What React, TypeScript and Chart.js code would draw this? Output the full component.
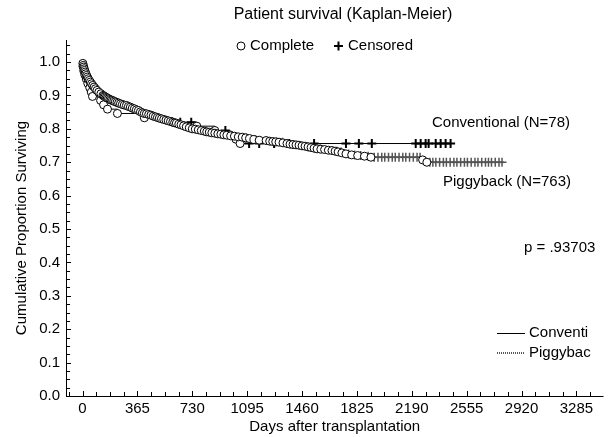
import React, { useEffect, useRef } from 'react';
import { Chart, registerables } from 'chart.js';

Chart.register(...registerables);

const FONT = '"Liberation Sans", Arial, Helvetica, sans-serif';

const TITLE = 'Patient survival (Kaplan-Meier)';
const X_TITLE = 'Days after transplantation';
const Y_TITLE = 'Cumulative Proportion Surviving';
const CONV_LABEL = 'Conventional (N=78)';
const PIG_LABEL = 'Piggyback (N=763)';
const P_LABEL = 'p = .93703';
const LEGEND_COMPLETE = 'Complete';
const LEGEND_CENSORED = 'Censored';
const LEGEND_CONV = 'Conventi';
const LEGEND_PIG = 'Piggybac';

const xTickLabels = [0, 365, 730, 1095, 1460, 1825, 2190, 2555, 2920, 3285];
const yTickLabels = [0, 0.1, 0.2, 0.3, 0.4, 0.5, 0.6, 0.7, 0.8, 0.9, 1.0];

// Piggyback (N=763): days of complete (death) events and survival after each
const pigEventDays = [2, 5, 8, 11, 14, 18, 22, 27, 32, 38, 45, 52, 60, 68, 77, 86, 96, 108, 122, 136,
  143, 150, 158, 165, 173, 182, 190, 199, 208, 218, 229, 240, 252, 265, 278, 292, 305, 318, 331, 345, 358, 372,
  385, 398, 411, 425, 440, 455, 470, 485, 498, 511, 525, 540, 555, 570, 585, 600, 612, 624, 640, 655, 672, 690, 710, 730,
  750, 770, 790, 810, 826, 843, 860, 880, 900, 920, 940, 960, 985, 1010, 1036, 1062,
  1085, 1110, 1140, 1175, 1221, 1245, 1265, 1285, 1307, 1333, 1360, 1380, 1400, 1420, 1440, 1460, 1480, 1500, 1520, 1540,
  1560, 1585, 1610, 1635, 1659, 1680, 1700, 1725, 1752, 1790, 1830, 1875, 1918, 2262, 2290];
const pigEventSurv = [0.996, 0.99, 0.985, 0.98, 0.975, 0.97, 0.965, 0.96, 0.955, 0.95, 0.945, 0.94, 0.935, 0.93, 0.925, 0.92, 0.915, 0.91, 0.905, 0.90,
  0.898, 0.896, 0.894, 0.892, 0.89, 0.888, 0.886, 0.885, 0.883, 0.881, 0.879, 0.877, 0.875, 0.873, 0.871, 0.87, 0.867, 0.865, 0.862, 0.86, 0.857, 0.855,
  0.851, 0.848, 0.846, 0.845, 0.843, 0.841, 0.838, 0.836, 0.834, 0.832, 0.83, 0.828, 0.826, 0.824, 0.822, 0.82, 0.818, 0.817, 0.814, 0.812, 0.809, 0.806, 0.803, 0.80,
  0.799, 0.797, 0.795, 0.793, 0.791, 0.79, 0.788, 0.787, 0.785, 0.784, 0.782, 0.781, 0.779, 0.778, 0.776, 0.775,
  0.773, 0.771, 0.768, 0.766, 0.765, 0.763, 0.762, 0.761, 0.76, 0.758, 0.756, 0.754, 0.753, 0.752, 0.751, 0.749, 0.748, 0.746, 0.744, 0.742,
  0.74, 0.739, 0.738, 0.736, 0.735, 0.733, 0.731, 0.728, 0.725, 0.722, 0.72, 0.718, 0.715, 0.707, 0.70];
const pigEndDay = 2800;
const pigCensorDays = [1090, 1150, 1290, 1330, 1500, 1580, 1690, 1720, 1770, 1810, 1850, 1900,
  1940, 1965, 1990, 2010, 2035, 2060, 2080, 2105, 2130, 2150, 2175, 2200, 2225, 2245,
  2310, 2330, 2350, 2375, 2400, 2420, 2445, 2470, 2490, 2515, 2540, 2560, 2585, 2610, 2630, 2655,
  2680, 2700, 2720, 2745, 2770, 2790];

// Conventional (N=78)
const convEventDays = [3, 8, 15, 25, 35, 48, 58, 66, 120, 140, 166, 232, 411, 600, 760, 880, 980, 1020, 1048];
const convEventSurv = [0.987, 0.974, 0.962, 0.949, 0.936, 0.923, 0.91, 0.897, 0.885, 0.872, 0.859, 0.846, 0.833, 0.82, 0.808, 0.795, 0.782, 0.769, 0.756];
const convEndDay = 2450;
const convCensorDays = [650, 723, 950, 1108, 1175, 1274, 1374, 1540, 1752, 1838, 1924, 2216, 2249, 2282, 2302, 2349, 2382, 2415, 2448];

function survAt(days: number[], surv: number[], t: number) {
  let v = 1;
  for (let i = 0; i < days.length; i++) if (days[i] <= t) v = surv[i];
  return v;
}
function stepLine(days: number[], surv: number[], end: number) {
  const pts = [{ x: 0, y: 1 }];
  days.forEach((d, i) => pts.push({ x: d, y: surv[i] }));
  pts.push({ x: end, y: surv[surv.length - 1] });
  return pts;
}
function events(days: number[], surv: number[]) {
  return days.map((d, i) => ({ x: d, y: surv[i] }));
}
function censors(cd: number[], days: number[], surv: number[]) {
  return cd.map((d) => ({ x: d, y: survAt(days, surv, d) }));
}

const decor = {
  id: 'decor',
  afterDraw(chart: any) {
    const { ctx, chartArea, scales } = chart;
    const x = scales.x;
    const y = scales.y;
    ctx.save();
    ctx.strokeStyle = '#000';
    ctx.lineWidth = 1;
    // axes
    ctx.beginPath();
    ctx.moveTo(chartArea.left + 0.5, chartArea.top);
    ctx.lineTo(chartArea.left + 0.5, chartArea.bottom + 0.5);
    ctx.lineTo(chartArea.right, chartArea.bottom + 0.5);
    ctx.stroke();
    // ticks (inward)
    ctx.beginPath();
    for (let t = -91.25; t <= x.max; t += 91.25) {
      if (t < x.min) continue;
      const px = Math.round(x.getPixelForValue(t)) + 0.5;
      const major = xTickLabels.some((v) => Math.abs(v - t) < 0.01);
      ctx.moveTo(px, chartArea.bottom);
      ctx.lineTo(px, chartArea.bottom - (major ? 5 : 4));
    }
    for (let k = 0; k <= 42; k++) {
      const v = k * 0.025;
      if (v > y.max) break;
      const py = Math.round(y.getPixelForValue(v)) + 0.5;
      const major = k % 4 === 0;
      ctx.moveTo(chartArea.left, py);
      ctx.lineTo(chartArea.left + (major ? 5 : 4), py);
    }
    ctx.stroke();

    ctx.fillStyle = '#000';
    ctx.textBaseline = 'middle';
    // title
    ctx.font = `16px ${FONT}`;
    ctx.textAlign = 'center';
    ctx.fillText(TITLE, 343, 15);
    // top legend
    ctx.font = `15px ${FONT}`;
    ctx.textAlign = 'left';
    ctx.beginPath();
    ctx.arc(241, 46, 4, 0, Math.PI * 2);
    ctx.fillStyle = '#fff';
    ctx.fill();
    ctx.stroke();
    ctx.fillStyle = '#000';
    ctx.fillText(LEGEND_COMPLETE, 250, 46);
    ctx.lineWidth = 2;
    ctx.beginPath();
    ctx.moveTo(334, 46);
    ctx.lineTo(343, 46);
    ctx.moveTo(338.5, 41.5);
    ctx.lineTo(338.5, 50.5);
    ctx.stroke();
    ctx.fillText(LEGEND_CENSORED, 348, 46);
    // axis titles
    ctx.textAlign = 'center';
    ctx.fillText(X_TITLE, (chartArea.left + chartArea.right) / 2, 427);
    ctx.save();
    ctx.translate(22, 228);
    ctx.rotate(-Math.PI / 2);
    ctx.fillText(Y_TITLE, 0, 0);
    ctx.restore();
    // annotations
    ctx.textAlign = 'left';
    ctx.fillText(CONV_LABEL, 432, 123);
    ctx.fillText(PIG_LABEL, 443, 182);
    ctx.fillText(P_LABEL, 524, 248);
    // bottom-right legend
    ctx.lineWidth = 1;
    ctx.strokeStyle = '#000';
    ctx.beginPath();
    ctx.moveTo(497, 333.5);
    ctx.lineTo(525, 333.5);
    ctx.stroke();
    ctx.fillText(LEGEND_CONV, 529, 333);
    ctx.strokeStyle = '#555';
    ctx.lineWidth = 2;
    ctx.setLineDash([1, 1]);
    ctx.beginPath();
    ctx.moveTo(497, 353);
    ctx.lineTo(525, 353);
    ctx.stroke();
    ctx.setLineDash([]);
    ctx.fillText(LEGEND_PIG, 529, 353);
    ctx.restore();
  },
};

export default function App() {
  const ref = useRef<HTMLCanvasElement | null>(null);
  useEffect(() => {
    if (!ref.current) return;
    const circleStyle = {
      showLine: false,
      pointStyle: 'circle',
      pointRadius: 4,
      pointBackgroundColor: '#fff',
      pointBorderColor: '#000',
      pointBorderWidth: 1,
    };
    const chart = new Chart(ref.current, {
      type: 'scatter',
      data: {
        datasets: [
          { label: 'Piggyback complete', data: events(pigEventDays, pigEventSurv), ...circleStyle },
          { label: 'Conventional complete', data: events(convEventDays, convEventSurv), ...circleStyle },
          {
            label: 'Conventional censored', data: censors(convCensorDays, convEventDays, convEventSurv),
            showLine: false, pointStyle: 'cross', pointRadius: 4.5, pointBorderColor: '#000', pointBorderWidth: 2,
          },
          {
            label: 'Piggyback censored', data: censors(pigCensorDays, pigEventDays, pigEventSurv),
            showLine: false, pointStyle: 'cross', pointRadius: 4.5, pointBorderColor: '#555', pointBorderWidth: 1.5,
          },
          {
            label: 'Conventional', data: stepLine(convEventDays, convEventSurv, convEndDay),
            showLine: true, stepped: 'before', pointRadius: 0, borderColor: '#000', borderWidth: 1, fill: false,
          },
          {
            label: 'Piggyback', data: stepLine(pigEventDays, pigEventSurv, pigEndDay),
            showLine: true, stepped: 'before', pointRadius: 0, borderColor: '#555', borderWidth: 2,
            borderDash: [1, 1], fill: false,
          },
        ] as any,
      },
      options: {
        responsive: false,
        animation: false,
        devicePixelRatio: 1,
        layout: { padding: { top: 40, right: 5, left: 0, bottom: 0 } },
        plugins: { legend: { display: false }, title: { display: false }, tooltip: { enabled: false } },
        scales: {
          x: {
            type: 'linear', min: -110, max: 3465,
            grid: { display: false, drawTicks: false }, border: { display: false },
            afterBuildTicks: (s: any) => { s.ticks = xTickLabels.map((v) => ({ value: v })); },
            afterFit: (s: any) => { s.height = 41; },
            ticks: {
              color: '#000', font: { size: 15, family: FONT }, padding: 4, maxRotation: 0, autoSkip: false,
              callback: (v: any) => String(v),
            },
          },
          y: {
            type: 'linear', min: 0, max: 1.066,
            grid: { display: false, drawTicks: false }, border: { display: false },
            afterBuildTicks: (s: any) => { s.ticks = yTickLabels.map((v) => ({ value: v })); },
            afterFit: (s: any) => { s.width = 66; },
            ticks: {
              color: '#000', font: { size: 15, family: FONT }, padding: 6, autoSkip: false,
              callback: (v: any) => Number(v).toFixed(1),
            },
          },
        },
      } as any,
      plugins: [decor],
    });
    return () => chart.destroy();
  }, []);
  return (
    <div style={{ position: 'absolute', left: 0, top: 0, width: 610, height: 437, background: '#fff' }}>
      <canvas ref={ref} width={610} height={437} style={{ width: 610, height: 437 }} />
    </div>
  );
}
